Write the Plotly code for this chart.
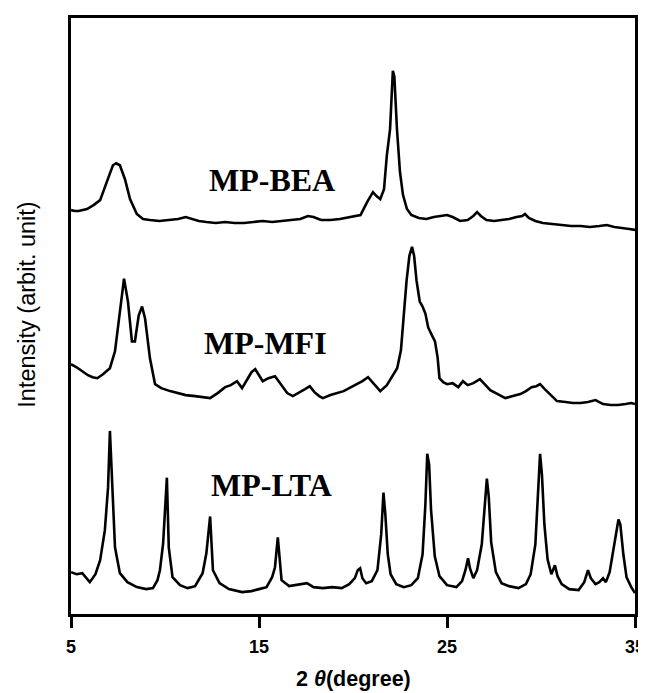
import plotly.graph_objects as go

# ---- data (arbitrary intensity units) ----
lta_x = [5.0, 5.3, 5.6, 6.0, 6.3, 6.55, 6.8, 6.97, 7.07, 7.2, 7.34, 7.6, 8.0, 8.5, 9.0, 9.36, 9.6, 9.73, 9.9,
         10.1, 10.2, 10.4, 10.8, 11.2, 11.6, 12.0, 12.2, 12.4, 12.55, 12.9, 13.4, 14.1, 14.6, 15.0, 15.4, 15.7,
         15.85, 16.0, 16.2, 16.6, 17.0, 17.55, 17.9, 18.4, 18.9, 19.4, 19.8, 20.1, 20.25, 20.38, 20.5, 20.7,
         21.0, 21.3, 21.5, 21.62, 21.72, 21.85, 22.0, 22.3, 22.7, 23.1, 23.45, 23.7, 23.85, 23.95, 24.05,
         24.15, 24.35, 24.6, 25.0, 25.5, 25.8, 25.98, 26.12, 26.22, 26.4, 26.6, 26.85, 27.0, 27.12, 27.22,
         27.35, 27.6, 27.9, 28.3, 28.8, 29.2, 29.45, 29.7, 29.85, 29.95, 30.05, 30.18, 30.35, 30.55, 30.74,
         30.88, 31.1, 31.5, 32.0, 32.3, 32.5, 32.65, 32.9, 33.1, 33.3, 33.45, 33.65, 33.85, 34.02, 34.12,
         34.22, 34.38, 34.55, 34.8, 35.0]
lta_y = [42, 40, 41, 32, 40, 54, 84, 127, 184, 127, 67, 41, 32, 27, 25, 26, 34, 44, 71,
         137, 67, 37, 29, 26, 28, 41, 61, 98, 44, 31, 25, 22, 23, 25, 27, 37,
         47, 77, 34, 28, 29, 31, 27, 26, 27, 26, 30, 36, 44, 46, 36, 31,
         33, 44, 80, 122, 100, 60, 40, 30, 27, 29, 36, 60, 110, 161, 150,
         105, 58, 38, 29, 27, 33, 44, 56, 46, 36, 44, 70, 110, 136, 118,
         72, 42, 31, 28, 26, 30, 40, 70, 125, 161, 140, 90, 55, 40, 49,
         38, 30, 25, 24, 32, 44, 36, 30, 32, 36, 32, 42, 65, 88, 95,
         90, 60, 37, 27, 21]

mfi_x = [5.0, 5.3, 5.6, 5.9, 6.15, 6.4, 6.7, 7.07, 7.34, 7.6, 7.72, 7.82, 7.93, 8.03, 8.24, 8.4, 8.6, 8.78,
         8.94, 9.2, 9.47, 9.8, 10.27, 10.7, 11.1, 11.6, 12.0, 12.4, 12.8, 13.2, 13.5, 13.83, 14.1, 14.4, 14.6,
         14.8, 15.0, 15.2, 15.5, 15.85, 16.2, 16.5, 16.8, 17.2, 17.45, 17.7, 17.95, 18.2, 18.4, 18.8, 19.15,
         19.5, 19.8, 20.2, 20.5, 20.8, 21.1, 21.45, 21.8, 22.1, 22.35, 22.55, 22.7, 22.85, 23.0, 23.14, 23.25,
         23.38, 23.55, 23.7, 23.85, 24.0, 24.2, 24.36, 24.5, 24.6, 24.8, 25.0, 25.3, 25.6, 25.85, 26.1, 26.4,
         26.75, 27.0, 27.3, 27.7, 28.1, 28.5, 28.9, 29.2, 29.5, 29.75, 29.95, 30.2, 30.5, 30.85, 31.3, 31.7,
         32.1, 32.5, 32.9, 33.0, 33.3, 33.7, 34.1, 34.5, 34.8, 35.0]
mfi_y = [251, 248, 244, 240, 238, 237, 241, 247, 264, 304, 325, 337, 325, 314, 274, 274, 300, 309,
         297, 257, 231, 227, 224, 222, 220, 219, 218, 217, 222, 228, 230, 234, 227, 236, 243,
         246, 240, 234, 237, 239, 230, 222, 219, 223, 226, 229, 223, 219, 217, 220, 222,
         224, 227, 231, 234, 238, 232, 224, 230, 240, 247, 265, 300, 335, 360, 369, 360,
         335, 314, 309, 302, 288, 280, 274, 258, 237, 233, 231, 232, 228, 234, 230, 232,
         236, 231, 225, 221, 217, 219, 221, 224, 228, 229, 231, 226, 220, 214, 213, 212,
         212, 213, 215, 214, 211, 210, 210, 211, 212, 211]

bea_x = [5.0, 5.2, 5.4, 5.6, 5.85, 6.2, 6.55, 6.9, 7.07, 7.23, 7.4, 7.6, 7.87, 8.14, 8.5, 8.83, 9.2, 9.7,
         10.2, 10.7, 11.1, 11.4, 11.8, 12.2, 12.7, 13.2, 13.7, 14.2, 14.7, 15.2, 15.7, 16.2, 16.7, 17.2,
         17.6, 17.9, 18.3, 18.8, 19.3, 19.8, 20.4, 20.75, 21.06, 21.25, 21.45, 21.65, 21.8, 21.97, 22.05,
         22.12, 22.2, 22.34, 22.5, 22.66, 22.87, 23.1, 23.5, 23.9, 24.3, 24.7, 25.0, 25.3, 25.7, 26.1,
         26.4, 26.6, 26.8, 27.1, 27.5, 27.9, 28.3, 28.7, 29.0, 29.15, 29.35, 29.7, 30.1, 30.6, 31.1,
         31.6, 32.1, 32.6, 33.1, 33.5, 33.9, 34.4, 34.7, 35.0]
bea_y = [406, 405, 405, 406, 407, 411, 416, 434, 442, 451, 453, 451, 437, 417, 402, 397, 396, 395,
         396, 397, 399, 397, 395, 394, 393, 394, 393, 393, 394, 395, 394, 395, 396, 397,
         400, 399, 396, 396, 397, 399, 401, 414, 424, 420, 417, 427, 461, 487, 519,
         546, 540, 487, 444, 421, 407, 401, 398, 397, 399, 400, 401, 399, 395, 396,
         400, 404, 400, 396, 395, 396, 397, 399, 400, 402, 398, 395, 393, 392, 391,
         390, 390, 389, 390, 391, 389, 388, 387, 386]

series_names = ["MP-LTA", "MP-MFI", "MP-BEA"]
label_x = [15.69, 15.32, 15.69]
label_y = [130, 272, 436]
x_ticks = [5, 15, 25, 35]

fig = go.Figure()
for xs, ys, nm in [(lta_x, lta_y, series_names[0]), (mfi_x, mfi_y, series_names[1]), (bea_x, bea_y, series_names[2])]:
    fig.add_trace(go.Scatter(x=xs, y=ys, mode="lines", name=nm,
                             line=dict(color="black", width=2.6), showlegend=False))

for nm, lx, ly in zip(series_names, label_x, label_y):
    fig.add_annotation(x=lx, y=ly, xref="x", yref="y", text=nm, showarrow=False,
                       font=dict(family="Liberation Serif, Times New Roman, serif", size=32,
                                 color="black", weight="bold"))

fig.add_annotation(x=0, y=0.519, xref="paper", yref="paper", xshift=-44, text="Intensity (arbit. unit)",
                   textangle=-90, showarrow=False, xanchor="center", yanchor="middle",
                   font=dict(family="Liberation Sans Narrow, Arial Narrow, Liberation Sans, sans-serif",
                             size=23.5, color="black"))
fig.add_annotation(x=0.5, y=0, xref="paper", yref="paper", yshift=-65, text="2 <i>θ</i>(degree)",
                   showarrow=False, xanchor="center", yanchor="middle",
                   font=dict(family="Liberation Sans, Arial, sans-serif", size=21.5, color="black",
                             weight="bold"))

# The page body keeps an 8px default margin, so the margins are shifted by 8px
# to put the plot frame where the reference has it.
fig.update_layout(
    width=646, height=693,
    margin=dict(l=63, r=19, t=7, b=87),
    paper_bgcolor="white", plot_bgcolor="white",
    xaxis=dict(range=[5, 35], tickvals=x_ticks, ticktext=[str(t) for t in x_ticks],
               ticks="outside", ticklen=11, tickwidth=3, tickcolor="black",
               ticklabelstandoff=3,
               showline=True, linewidth=3, linecolor="black", mirror=True,
               showgrid=False, zeroline=False,
               tickfont=dict(family="Liberation Sans, Arial, sans-serif", size=18, color="black",
                             weight="bold")),
    yaxis=dict(range=[0, 599], showticklabels=False, ticks="",
               showline=True, linewidth=3, linecolor="black", mirror=True,
               showgrid=False, zeroline=False),
)

fig.write_html("out.html", config={"displayModeBar": False},
               post_script="document.body.style.overflow='hidden';")
